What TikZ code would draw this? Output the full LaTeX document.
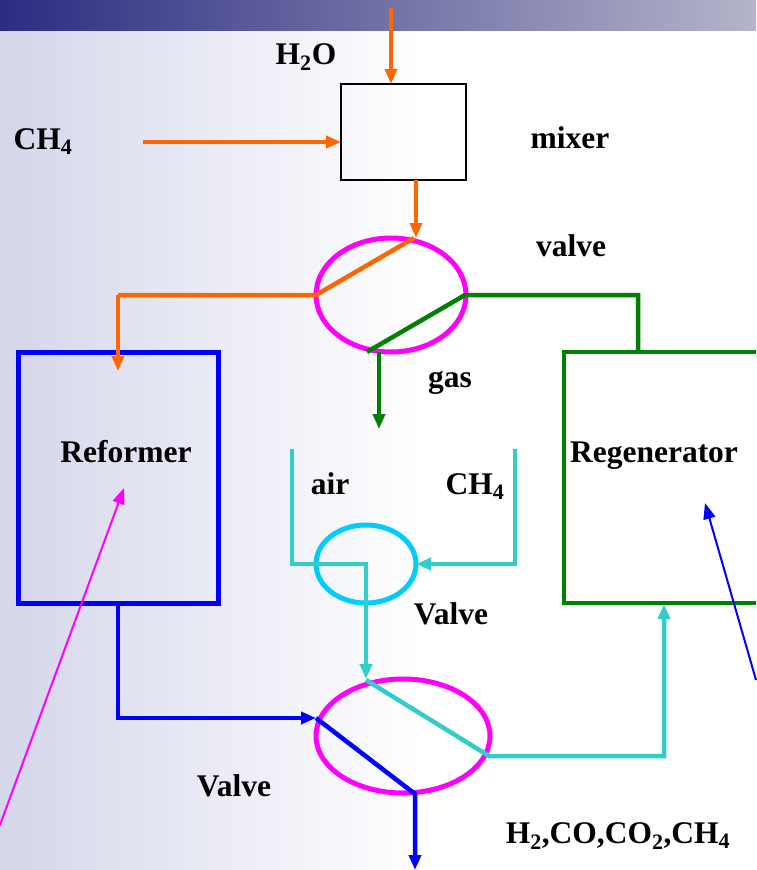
\documentclass[tikz,border=0pt]{standalone}
\usepackage{fontspec}
\setmainfont{Liberation Serif}
\usetikzlibrary{arrows.meta,shapes.geometric}
\definecolor{flowred}{RGB}{255,102,0}
\definecolor{flowgreen}{RGB}{0,128,0}
\definecolor{flowblue}{RGB}{0,0,255}
\definecolor{flowteal}{RGB}{51,204,204}
\definecolor{flowpink}{RGB}{255,0,255}
\definecolor{flowsky}{RGB}{0,204,255}
\definecolor{bandleft}{RGB}{44,44,130}
\definecolor{bandright}{RGB}{180,180,202}
\definecolor{sideleft}{RGB}{212,214,234}
\tikzset{
  lbl/.style={font=\fontsize{31.5}{33}\selectfont\bfseries,inner sep=0pt,text=black,anchor=base},
  pipe/.style={line width=4.5pt,line join=miter},
  flow/.style={line width=4.5pt,-{Triangle[length=15pt,width=12pt]}},
  thinflow/.style={line width=2pt,-{Triangle[length=16pt,width=12pt]}},
  valve/.style={draw,ellipse,line width=5pt,inner sep=0pt},
}
\begin{document}
\begin{tikzpicture}[x=1pt,y=-1pt]
  \useasboundingbox (0,0) rectangle (756,870);
  % background
  \shade[left color=sideleft,right color=white,draw=none] (0,0) rectangle (420,870);
  \shade[left color=bandleft,right color=bandright,draw=none] (0,0) rectangle (756,30);

  \node (mixer) [draw,line width=1.5pt,minimum width=125pt,minimum height=96pt,inner sep=0pt] at (403.5,132) {};
  \node (VT) [valve,draw=flowpink,minimum width=150pt,minimum height=114pt] at (391,295) {};
  \node (VM) [valve,draw=flowsky,minimum width=100pt,minimum height=78pt] at (366,564) {};
  \node (VB) [valve,draw=flowpink,minimum width=174pt,minimum height=114pt] at (403,736) {};

  \coordinate (W) at (391,8);
  \coordinate (W1) at (391,84);
  \coordinate (C) at (143,142);
  \coordinate (C1) at (341,142);
  \coordinate (M) at (416,180);
  \coordinate (M1) at (416,238);
  \coordinate (T1) at (414,238);
  \coordinate (T2) at (316,295);
  \coordinate (T3) at (118,295);
  \coordinate (T4) at (118,371);
  \coordinate (G1) at (638,352);
  \coordinate (G2) at (638,295);
  \coordinate (G3) at (465,295);
  \coordinate (G4) at (367,352);
  \coordinate (G5) at (379,352);
  \coordinate (G6) at (379,429);
  \coordinate (A) at (292,449);
  \coordinate (A1) at (292,564);
  \coordinate (A2) at (366,564);
  \coordinate (A3) at (366,679);
  \coordinate (B) at (515,449);
  \coordinate (B1) at (515,564);
  \coordinate (B2) at (416,564);
  \coordinate (D1) at (366,680);
  \coordinate (D2) at (489,756);
  \coordinate (D3) at (664,756);
  \coordinate (D4) at (664,604);
  \coordinate (E1) at (118,603);
  \coordinate (E2) at (118,718);
  \coordinate (E3) at (316,718);
  \coordinate (E4) at (415,794);
  \coordinate (E5) at (415,870);
  \coordinate (P) at (0,825);
  \coordinate (P1) at (124,488);
  \coordinate (Q) at (756,680);
  \coordinate (Q1) at (705,503);
  \coordinate (R1) at (756,352);
  \coordinate (R2) at (564,352);
  \coordinate (R3) at (564,603);
  \coordinate (R4) at (756,603);

  \node (reformer) [draw=flowblue,line width=5pt,minimum width=200pt,minimum height=251pt,inner sep=0pt] at (118,477.5) {};
  \draw[pipe,flowgreen] (R1) -- (R2) -- (R3) -- (R4);

  \draw[flow,flowred] (W) -- (W1);
  \draw[flow,flowred] (C) -- (C1);
  \draw[flow,flowred] (M) -- (M1);
  \draw[pipe,flowred] (T1) -- (T2) -- (T3);
  \draw[flow,flowred] (T3) -- (T4);
  \draw[pipe,flowgreen] (G1) -- (G2) -- (G3) -- (G4);
  \draw[flow,flowgreen] (G5) -- (G6);
  \draw[flow,flowteal] (A) -- (A1) -- (A2) -- (A3);
  \draw[flow,flowteal] (B) -- (B1) -- (B2);
  \draw[flow,flowteal] (D1) -- (D2) -- (D3) -- (D4);
  \draw[flow,flowblue] (E1) -- (E2) -- (E3);
  \draw[flow,flowblue] (E3) -- (E4) -- (E5);
  \draw[thinflow,flowpink] (P) -- (P1);
  \draw[thinflow,flowblue] (Q) -- (Q1);

  \node (LW) [lbl] at (306,64) {H\textsubscript{2}O};
  \node (LC) [lbl] at (43,149) {CH\textsubscript{4}};
  \node (LM) [lbl] at (570,148) {mixer};
  \node (LV) [lbl] at (571,256) {valve};
  \node (LG) [lbl] at (450,387) {gas};
  \node (LR) [lbl] at (126,462) {Reformer};
  \node (LS) [lbl] at (654,462) {Regenerator};
  \node (LA) [lbl] at (330,494) {air};
  \node (LD) [lbl] at (475,494) {CH\textsubscript{4}};
  \node (LN) [lbl] at (451,624) {Valve};
  \node (LB) [lbl] at (234,796) {Valve};
  \node (LP) [lbl] at (618,843) {H\textsubscript{2},CO,CO\textsubscript{2},CH\textsubscript{4}};
\end{tikzpicture}
\end{document}
